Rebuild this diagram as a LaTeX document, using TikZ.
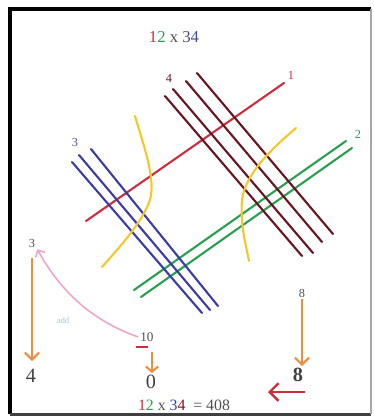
\documentclass[tikz,border=0pt]{standalone}
\usepackage{fontspec}
\setmainfont{Liberation Serif}
\usetikzlibrary{arrows.meta}
\definecolor{redline}{RGB}{205,45,60}
\definecolor{maroonline}{RGB}{105,20,35}
\definecolor{greenline}{RGB}{40,160,80}
\definecolor{blueline}{RGB}{60,60,165}
\definecolor{yellowline}{RGB}{245,200,40}
\definecolor{orangearrow}{RGB}{240,140,60}
\definecolor{pinkarrow}{RGB}{240,165,200}
\definecolor{addblue}{RGB}{150,200,225}
\definecolor{graytext}{RGB}{80,80,80}
\begin{document}
\begin{tikzpicture}[
  x=0.02cm, y=-0.02cm,
  stick/.style={line width=1.2pt, line cap=round},
  small/.style={inner sep=1pt, text=graytext, font=\fontsize{7}{8}\selectfont},
  big/.style={inner sep=1pt, text=graytext!80!black, font=\fontsize{11.5}{12}\selectfont},
  down/.style={-{Straight Barb[length=4pt,width=8pt,line width=1.2pt]}, orangearrow, line width=1.2pt}
]
\useasboundingbox (0,0) rectangle (373,417);
% frame
\draw[line width=2.3pt] (10,414) -- (10,9) -- (371,9);
\draw[black!75, line width=1.8pt] (10,414.5) -- (371,414.5);
\draw[gray!70, line width=0.9pt] (371,9) -- (371,414);

\node[inner sep=1pt, font=\fontsize{9.5}{11}\selectfont] (title) at (174,37)
  {\textcolor{redline}{1}\textcolor{greenline}{2} \textcolor{graytext}{x} \textcolor{blueline!80!gray}{34}};

% lines of 12
\draw[stick, redline] (86,221) -- (284,83);
\draw[stick, greenline] (134,290) -- (346,141);
\draw[stick, greenline] (141,297) -- (352,148);
% lines of 34
\draw[stick, blueline] (72,162) -- (202,313);
\draw[stick, blueline] (79,155) -- (210,310);
\draw[stick, blueline] (91,149) -- (218,306);
\draw[stick, maroonline] (165,96) -- (302,256);
\draw[stick, maroonline] (173,89) -- (313,253);
\draw[stick, maroonline] (186,81) -- (322,242);
\draw[stick, maroonline] (197,73) -- (333,234);
% yellow dividers
\draw[stick, yellowline] (135,116) .. controls (145,150) and (158,185) .. (148,205)
  .. controls (138,228) and (115,252) .. (102,267);
\draw[stick, yellowline] (296,128) .. controls (270,150) and (245,175) .. (242,200)
  .. controls (240,225) and (246,245) .. (249,261);

\node[small, text=redline] (lab1) at (291,75) {1};
\node[small, text=greenline] (lab2) at (358,134) {2};
\node[small, text=blueline!70!gray] (lab3) at (75,142) {3};
\node[small, text=maroonline] (lab4) at (169,78) {4};

% results
\node[small] (top3) at (32,243) {3};
\node[big] (bot4) at (31,376) {4};
\draw[down] (32,258) -- (32,361);

\node[small, font=\fontsize{7.5}{9}\selectfont] (ten) at (147,337) {10};
\draw[redline, line width=1.6pt] (136,347) -- (148,347);
\node[big] (zero) at (151,382) {0};
\draw[down, -{Straight Barb[length=3pt,width=7pt,line width=1.2pt]}] (152,352) -- (zero.north -| 152,352);

\draw[pinkarrow, line width=0.9pt, -{Straight Barb[length=3pt,width=6pt]}]
  (ten.west) .. controls (90,320) and (60,290) .. (top3.south east);
\node[inner sep=0pt, text=addblue, font=\fontsize{5}{6}\selectfont] (addlab) at (63,320) {add};

\node[small] (top8) at (302,293) {8};
\node[big, font=\bfseries\fontsize{11.5}{12}\selectfont] (bot8) at (298,375) {8};
\draw[down] (top8) -- (top8 |- bot8.north);
\coordinate (rarr) at (305,392);
\coordinate (larr) at (268,392);
\draw[redline, line width=1.4pt, -{Straight Barb[length=5pt,width=10pt,line width=1.4pt]}] (rarr) -- (larr);

\node[inner sep=1pt, font=\fontsize{9}{10}\selectfont] (eq) at (184,405)
  {\textcolor{redline}{1}\textcolor{greenline}{2} \textcolor{graytext}{x} \textcolor{blueline}{3}\textcolor{maroonline!80!red}{4} \ \textcolor{graytext}{= 408}};
\end{tikzpicture}
\end{document}
